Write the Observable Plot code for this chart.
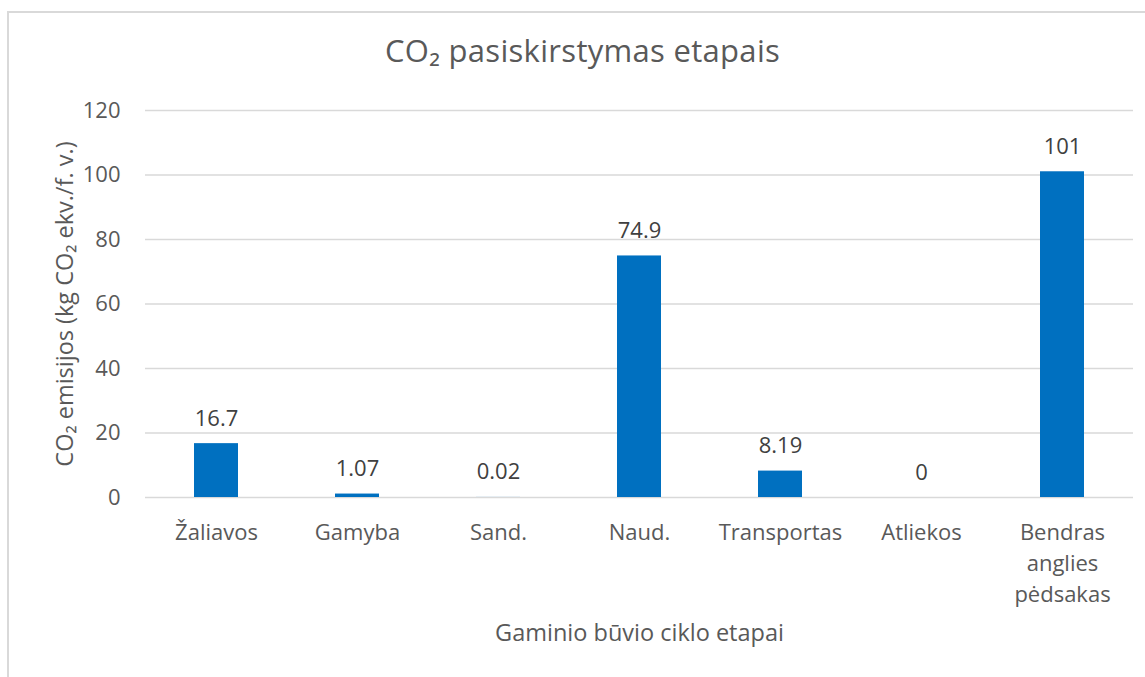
<!DOCTYPE html>
<html>
<head>
<meta charset="utf-8">
<script src="https://cdn.jsdelivr.net/npm/d3@7"></script>
<script src="https://cdn.jsdelivr.net/npm/@observablehq/plot@0.6"></script>
<style>
  html, body { margin: 0; padding: 0; background: #fff; }
  #wrap { position: relative; width: 1145px; height: 677px; overflow: hidden; font-family: "Open Sans", sans-serif; }
  #frame { position: absolute; left: 7px; top: 11px; width: 1200px; height: 720px; border: 2px solid #d9d9d9; box-sizing: border-box; }
  #title { position: relative; height: 80px; box-sizing: border-box; padding-top: 35px; padding-left: 20px; text-align: center; font-size: 31px; line-height: 31px; letter-spacing: 0.3px; color: #595959; }
  #chart { position: relative; }
  #chart svg { background: none !important; }
</style>
</head>
<body>
<div id="wrap">
  <div id="frame"></div>
  <div id="title">CO₂ pasiskirstymas etapais</div>
  <div id="chart"></div>
</div>
<script>
const categories = ["Žaliavos", "Gamyba", "Sand.", "Naud.", "Transportas", "Atliekos", "Bendras anglies pėdsakas"];
const tickLabels = ["Žaliavos", "Gamyba", "Sand.", "Naud.", "Transportas", "Atliekos", "Bendras\nanglies\npėdsakas"];
const values = [16.7, 1.07, 0.02, 74.9, 8.19, 0, 101];
const valueLabels = ["16.7", "1.07", "0.02", "74.9", "8.19", "0", "101"];
const yTicks = [0, 20, 40, 60, 80, 100, 120];
const yTitle = "CO₂ emisijos (kg CO₂ ekv./f. v.)";
const xTitle = "Gaminio būvio ciklo etapai";

const rows = categories.map((c, i) => ({stage: c, value: values[i], label: valueLabels[i], tick: tickLabels[i]}));
const tickMap = new Map(rows.map(r => [r.stage, r.tick]));

const chart = Plot.plot({
  width: 1145,
  height: 597,
  marginLeft: 145,
  marginRight: 12,
  marginTop: 30,
  marginBottom: 180,
  style: {fontFamily: "'Open Sans', sans-serif", fontSize: "22px", color: "#595959", background: "none"},
  x: {domain: categories, paddingInner: 0.69, paddingOuter: 0.345, label: null},
  y: {domain: [0, 120], label: null},
  marks: [
    Plot.ruleY(yTicks, {stroke: "#d9d9d9", strokeWidth: 1.5}),
    Plot.barY(rows, {x: "stage", y: "value", fill: "#0070C0"}),
    Plot.text(rows, {x: "stage", y: "value", text: "label", dy: -25, fill: "#404040", fontSize: 22, lineAnchor: "middle"}),
    Plot.axisY(yTicks, {tickSize: 0, tickPadding: 25, fontSize: 22, fill: "#595959", label: null}),
    Plot.axisX({tickSize: 0, tickPadding: 21, fontSize: 22, fill: "#595959", lineHeight: 1.4, tickFormat: d => tickMap.get(d), label: null}),
    Plot.text([yTitle], {frameAnchor: "left", dx: -80, rotate: -90, text: d => d, fontSize: 23.5, fill: "#595959", lineAnchor: "middle", textAnchor: "middle"}),
    Plot.text([xTitle], {frameAnchor: "bottom", dy: 135.5, text: d => d, fontSize: 23.5, fill: "#595959", lineAnchor: "middle", textAnchor: "middle"})
  ]
});
document.getElementById("chart").appendChild(chart);
</script>
</body>
</html>
